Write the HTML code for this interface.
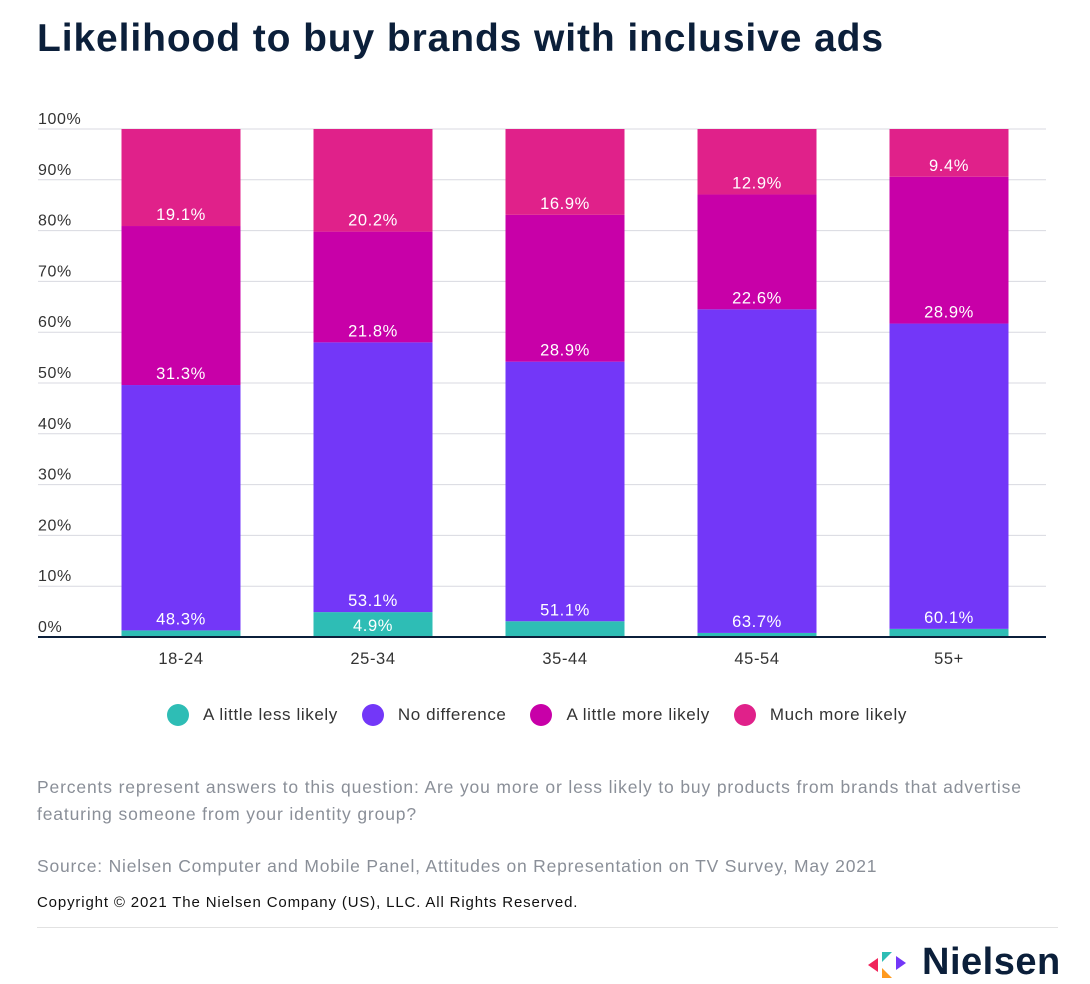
<!DOCTYPE html>
<html><head><meta charset="utf-8">
<style>
body{margin:0;background:#fff;width:1090px;height:981px;overflow:hidden;font-family:"Liberation Sans",sans-serif;position:relative}
.t{position:absolute;white-space:nowrap}
</style></head><body>
<div class="t" style="left:37px;top:17px;font-size:39px;font-weight:bold;color:#0b1f3a;letter-spacing:0.9px">Likelihood to buy brands with inclusive ads</div>
<svg id="chart" width="1090" height="740" style="position:absolute;left:0;top:0" font-family="Liberation Sans, sans-serif" letter-spacing="0.6"></svg>
<div class="t" style="left:0;top:704px;width:1090px;font-size:17px;color:#333;display:flex;justify-content:center;letter-spacing:0.6px">
 <span style="margin-left:-16px;display:flex;align-items:center"><i style="width:22px;height:22px;border-radius:50%;background:#2ebdb5;display:inline-block;margin-right:14px"></i>A little less likely</span>
 <span style="margin-left:24px;display:flex;align-items:center"><i style="width:22px;height:22px;border-radius:50%;background:#7337f8;display:inline-block;margin-right:14px"></i>No difference</span>
 <span style="margin-left:24px;display:flex;align-items:center"><i style="width:22px;height:22px;border-radius:50%;background:#c800a8;display:inline-block;margin-right:14px"></i>A little more likely</span>
 <span style="margin-left:24px;display:flex;align-items:center"><i style="width:22px;height:22px;border-radius:50%;background:#e0218a;display:inline-block;margin-right:14px"></i>Much more likely</span>
</div>
<div class="t" style="left:37px;top:774px;font-size:17.5px;color:#8a8f98;line-height:27px;letter-spacing:0.85px">Percents represent answers to this question: Are you more or less likely to buy products from brands that advertise<br>featuring someone from your identity group?</div>
<div class="t" style="left:37px;top:856px;font-size:17.5px;color:#8a8f98;letter-spacing:0.8px">Source: Nielsen Computer and Mobile Panel, Attitudes on Representation on TV Survey, May 2021</div>
<div class="t" style="left:37px;top:894px;font-size:15px;color:#111;letter-spacing:0.85px">Copyright © 2021 The Nielsen Company (US), LLC. All Rights Reserved.</div>
<div style="position:absolute;left:37px;top:927px;width:1021px;height:1px;background:#e2e2e2"></div>
<svg width="50" height="30" style="position:absolute;left:866px;top:950px">
<polygon points="2,15 12,8 12,22" fill="#f0245a"/><polygon points="16,2 26,2 16,12" fill="#2ebdb5"/><polygon points="16,18 26,28 16,28" fill="#ff9a1f"/><polygon points="30,6 40,13 30,20" fill="#7337f8"/></svg>
<div class="t" style="left:922px;top:941px;font-size:38px;font-weight:bold;color:#0b1f3a;letter-spacing:0.5px">Nielsen</div>
<script>
const categories=["18-24","25-34","35-44","45-54","55+"];
const lessLikely=[1.3,4.9,3.1,0.8,1.6];
const noDifference=[48.3,53.1,51.1,63.7,60.1];
const littleMore=[31.3,21.8,28.9,22.6,28.9];
const muchMore=[19.1,20.2,16.9,12.9,9.4];
const yTicks=[0,10,20,30,40,50,60,70,80,90,100];
const svg=document.getElementById('chart');
const NS='http://www.w3.org/2000/svg';
const X0=38,X1=1046,Y0=637,Y1=129;
const y=v=>Y0+(Y1-Y0)*v/100;
const band=192;
const xc=i=>181+band*i;
function mk(tag,attrs){const e=document.createElementNS(NS,tag);for(const k in attrs)e.setAttribute(k,attrs[k]);svg.appendChild(e);return e;}
yTicks.forEach(t=>{
 const l=mk('line',{x1:X0,x2:X1,y1:y(t),y2:y(t),stroke:'#d8d9e0','stroke-width':1});
 
 
 const tx=mk('text',{x:X0,y:y(t)-5,'font-size':16,fill:'#333'});tx.textContent=t+'%';
 
 
});
const series=[[lessLikely,'#2ebdb5'],[noDifference,'#7337f8'],[littleMore,'#c800a8'],[muchMore,'#e0218a']];
const bw=119;
categories.forEach((c,i)=>{
 let base=0;
 series.forEach(([arr,col],s)=>{
  const v=arr[i];
  const r=mk('rect',{x:xc(i)-bw/2,y:y(base+v),width:bw,height:y(base)-y(base+v),fill:col});
  
  
  if(v>=4){
   const tx=mk('text',{x:xc(i),y:y(base)-6,'font-size':16.5,fill:'#fff','text-anchor':'middle'});
   tx.textContent=v.toFixed(1)+'%';
   
   
  }
  base+=v;
 });
 const tl=mk('text',{x:xc(i),y:664,'font-size':16.5,fill:'#333','text-anchor':'middle'});tl.textContent=c;
 
 
});
const ax=mk('line',{x1:X0,x2:X1,y1:Y0,y2:Y0,stroke:'#0b1f3a','stroke-width':2});


</script>
</body></html>
